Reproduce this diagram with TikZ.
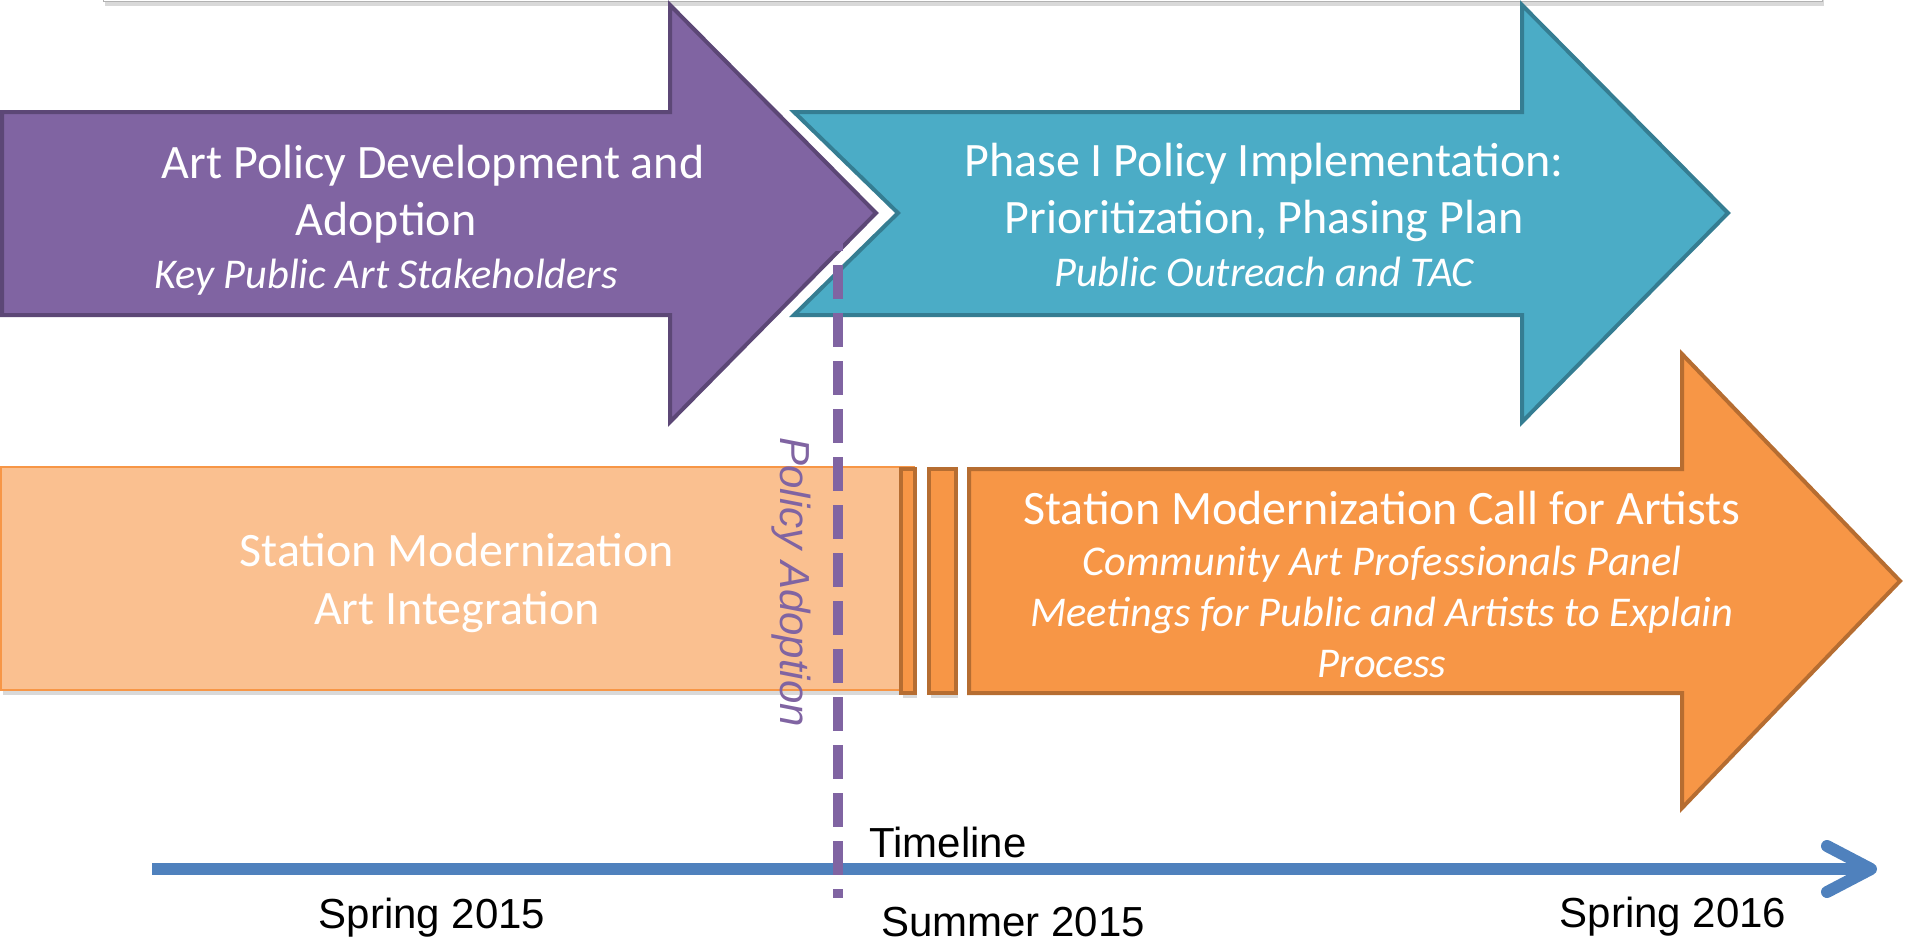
\documentclass[tikz,border=0pt]{standalone}
\usepackage{fontspec}
\setmainfont{Carlito}
\newfontfamily\arialfont{Liberation Sans}
\usetikzlibrary{positioning}
\usetikzlibrary{arrows.meta}
\usetikzlibrary{shadows}
\definecolor{purpleFill}{HTML}{8064A2}
\definecolor{purpleLine}{HTML}{5C4776}
\definecolor{tealFill}{HTML}{4BACC6}
\definecolor{tealLine}{HTML}{357D92}
\definecolor{orangeFill}{HTML}{F79646}
\definecolor{orangeLine}{HTML}{B66D31}
\definecolor{orangeLight}{HTML}{FAC090}
\definecolor{timelineBlue}{HTML}{4F81BD}
\tikzstyle{line} = [draw, line width=6pt, timelineBlue, -{Straight Barb[length=22pt,width=23pt,round]}]
\newcommand{\phasesub}[1]{{\fontsize{21.2}{25}\selectfont\itshape #1}}

\begin{document}
\begin{tikzpicture}[x=0.5pt, y=-0.5pt]

	\tikzstyle{PhaseArrow} = [line width=2pt, line join=miter]
	\tikzstyle{SoftShadow} = [drop shadow={shadow xshift=1pt, shadow yshift=-2.5pt, opacity=0.3}]
	\tikzstyle{PhaseText} = [text=white, align=center, inner sep=0pt, font=\fontsize{24}{28.5}\selectfont]
	\tikzstyle{DateText} = [font=\arialfont\fontsize{21}{25}\selectfont, inner sep=0pt]

	\useasboundingbox (0,0) rectangle (1905,944);

	% Frame above
	\draw [draw=gray!60, fill=white, SoftShadow] (103,-80) rectangle (1822,1);

	% Phase shapes
	\draw [PhaseArrow, fill=purpleFill, draw=purpleLine] (2,112) -- (670,112) -- (670,5) -- (876,213) -- (670,422) -- (670,315) -- (2,315) -- cycle;
	\draw [PhaseArrow, fill=tealFill, draw=tealLine] (794,112) -- (1522,112) -- (1522,5) -- (1728,213) -- (1522,422) -- (1522,315) -- (794,315) -- (898,213) -- cycle;
	\draw [fill=orangeLight, draw=orangeFill, line width=1pt, SoftShadow] (1,467) rectangle (914,690);
	\draw [fill=orangeFill, draw=orangeLine, line width=2pt, SoftShadow] (901,469) rectangle (915,693);
	\draw [fill=orangeFill, draw=orangeLine, line width=2pt, SoftShadow] (929,469) rectangle (956,693);
	\draw [PhaseArrow, fill=orangeFill, draw=orangeLine] (969,469) -- (1682,469) -- (1682,354) -- (1900,581) -- (1682,808) -- (1682,693) -- (969,693) -- cycle;

	% Place nodes
	\node [PhaseText] (adoption) at (386,220) {\hspace*{47pt}Art Policy Development and\\Adoption\\[-2pt]\phasesub{Key Public Art Stakeholders}};
	\node [PhaseText] (implementation) at (1264,215) {Phase I Policy Implementation:\\Prioritization, Phasing Plan\\[-2pt]\phasesub{Public Outreach and TAC}};
	\node [PhaseText, font=\fontsize{24}{29}\selectfont] (integration) at (457,583) {Station Modernization\\Art Integration};
	\node [PhaseText, font=\fontsize{24}{25.5}\selectfont] (callartists) at (1382,584) {Station Modernization Call for Artists\\\phasesub{Community Art Professionals Panel}\\\phasesub{Meetings for Public and Artists to Explain}\\\phasesub{Process}};

	% Timeline
	\coordinate (tlstart) at (152,869);
	\coordinate (tlend) at (1877,869);
	\path [line] (tlstart) -- (tlend);
	\node [DateText] (timeline) at (948,842) {Timeline};
	\node [DateText] (spring15) at (432,918) {Spring 2015};
	\node [DateText] (summer15) at (1013,922) {Summer 2015};
	\node [DateText] (spring16) at (1673,917) {Spring 2016};

	% Policy adoption marker
	\node [DateText, font=\arialfont\itshape\fontsize{21}{25}\selectfont, text=purpleFill, rotate=-90, anchor=west] (adoptlabel) at (791,437) {Policy Adoption};
	\coordinate (adopttop) at (838,217);
	\coordinate (adoptbottom) at (838,898);
	\draw [purpleFill, line width=5pt, dash pattern=on 17pt off 7pt] (adopttop) -- (adoptbottom);

\end{tikzpicture}
\end{document}
